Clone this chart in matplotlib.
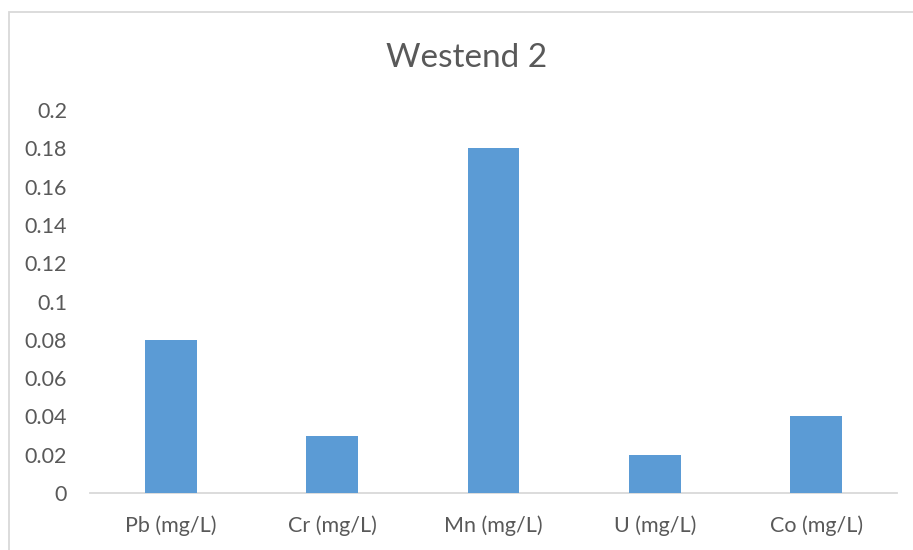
import matplotlib
matplotlib.use("Agg")
import matplotlib.pyplot as plt
from matplotlib.patches import Rectangle
import numpy as np

categories = ["Pb (mg/L)", "Cr (mg/L)", "Mn (mg/L)", "U (mg/L)", "Co (mg/L)"]
values = [0.08, 0.03, 0.18, 0.02, 0.04]
yticks = [0, 0.02, 0.04, 0.06, 0.08, 0.1, 0.12, 0.14, 0.16, 0.18, 0.2]
ytick_labels = ["0", "0.02", "0.04", "0.06", "0.08", "0.1", "0.12", "0.14", "0.16", "0.18", "0.2"]
title = "Westend 2"

plt.rcParams['font.family'] = ['Lato', 'DejaVu Sans']
W, H = 913, 550
fig = plt.figure(figsize=(W / 100, H / 100), dpi=100)
ax = fig.add_axes([90 / W, 1 - 493 / H, (897 - 90) / W, (493 - 110) / H])

x = np.arange(len(categories))
ax.bar(x, values, width=0.32, color="#5B9BD5", zorder=3)
ax.set_xlim(-0.5, len(categories) - 0.5)
ax.set_ylim(0, 0.2)
ax.set_xticks(x)
ax.set_xticklabels(categories)
ax.set_yticks(yticks)
ax.set_yticklabels(ytick_labels)

for s in ["top", "right", "left"]:
    ax.spines[s].set_visible(False)
ax.spines["bottom"].set_color("#D9D9D9")
ax.spines["bottom"].set_linewidth(1.3)
ax.tick_params(axis="both", length=0, labelsize=15.5, colors="#595959")
ax.tick_params(axis="x", pad=16)
ax.tick_params(axis="y", pad=16.5)

fig.text(467 / W, 1 - 58 / H, title, ha="center", va="center", fontsize=24, color="#595959")

fig.patches.append(Rectangle((8.5 / W, -0.1), 2, 1 - 12.5 / H + 0.1, transform=fig.transFigure,
                             fill=False, edgecolor="#D9D9D9", linewidth=1.3))

fig.savefig("out.png", dpi=100, facecolor="white")
